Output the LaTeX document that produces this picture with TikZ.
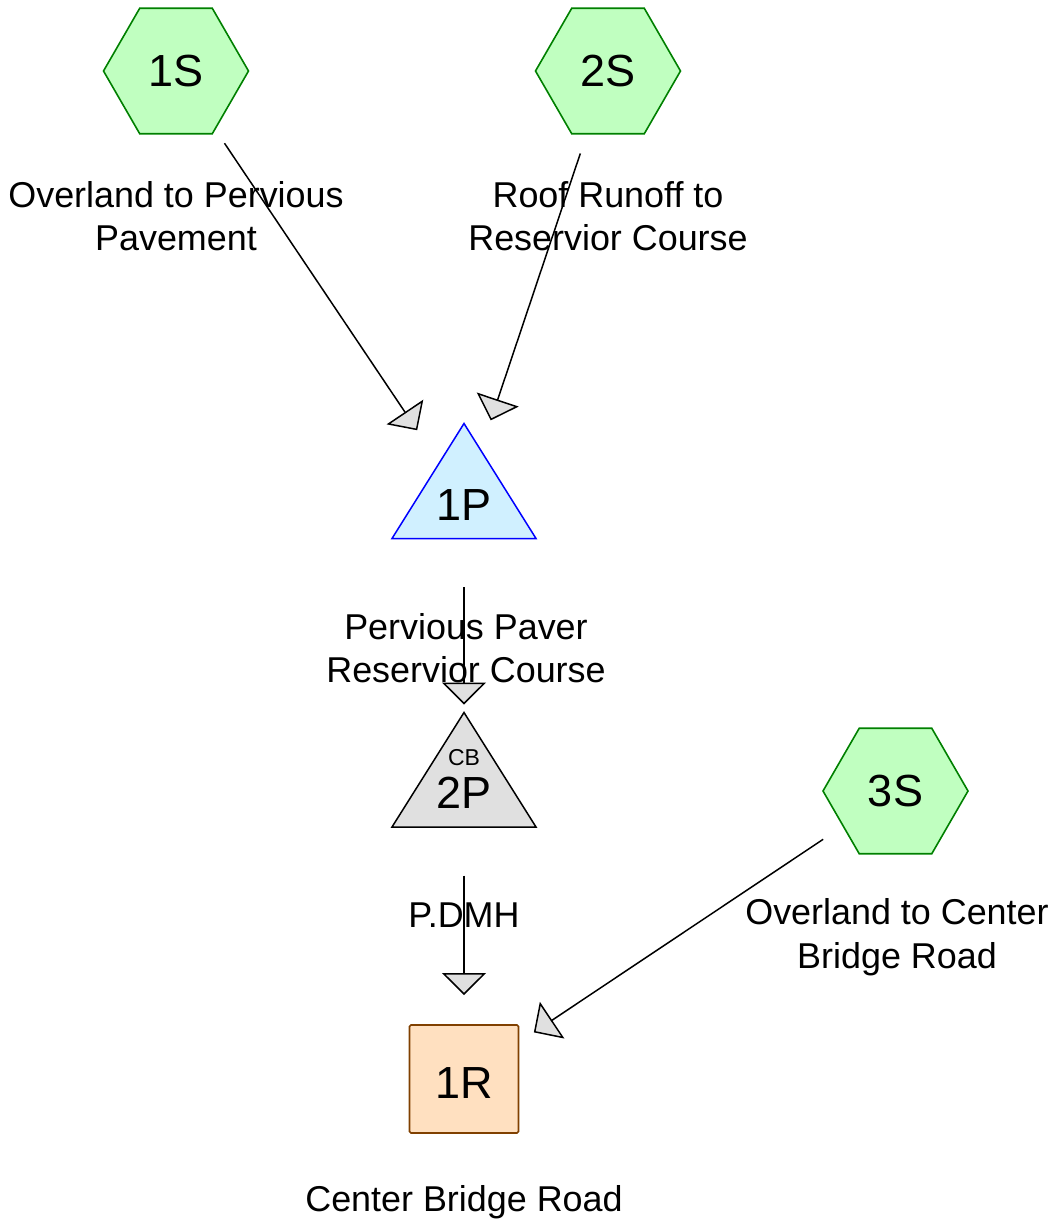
\documentclass[tikz,border=0pt]{standalone}
\usepackage{fontspec}
\setmainfont{Liberation Sans}
\usetikzlibrary{shapes.geometric,arrows.meta}
\definecolor{hexfill}{HTML}{C0FFC0}
\definecolor{hexdraw}{HTML}{008000}
\definecolor{pondfill}{HTML}{D0F0FF}
\definecolor{pondfill2}{HTML}{E0E0E0}
\definecolor{reachfill}{HTML}{FFE0C0}
\definecolor{reachdraw}{HTML}{804000}
\tikzset{
  subcat/.style={regular polygon, regular polygon sides=6, minimum size=145pt, inner sep=0pt,
    draw=hexdraw, fill=hexfill, line width=1.6pt, font=\fontsize{45}{48}\selectfont},
  bigtxt/.style={inner sep=0pt, font=\fontsize{45}{48}\selectfont},
  smalltxt/.style={inner sep=0pt, font=\fontsize{23}{26}\selectfont},
  lbl/.style={inner sep=0pt, align=center, font=\fontsize{35.9}{43.5}\selectfont},
  reach/.style={rectangle, minimum width=109pt, minimum height=108pt, inner sep=0pt,
    draw=reachdraw, fill=reachfill, line width=1.6pt, rounded corners=1.5pt},
  flow/.style={draw=black, line width=1.5pt, -{Triangle[length=22pt,width=44pt,fill=pondfill2]},
    shorten <=87pt, shorten >=84pt}
}
\begin{document}
\begin{tikzpicture}[x=1pt,y=-1pt]
\useasboundingbox (0,0) rectangle (1055,1224);
% subcatchments
\node[subcat] (s1) at (176,71) {1S};
\node[subcat] (s2) at (608,71) {2S};
\node[subcat] (s3) at (895.5,791) {3S};
% pond 1P
\coordinate (p1) at (464,500);
\draw[draw=blue, fill=pondfill, line width=1.5pt] (464,423.5) -- (536,538.5) -- (392,538.5) -- cycle;
\node[bigtxt] (p1t) at (464,505) {1P};
% pond 2P
\coordinate (p2) at (464,788.5);
\draw[draw=black, fill=pondfill2, line width=1.5pt] (464,712.5) -- (536,827) -- (392,827) -- cycle;
\node[smalltxt] (cb) at (464,758) {CB};
\node[bigtxt] (p2t) at (464,793) {2P};
% reach
\node[reach] (r1) at (464,1079) {};
\node[bigtxt] (r1t) at (464,1083) {1R};
% labels
\node[lbl] (l1) at (176,216) {Overland to Pervious\\Pavement};
\node[lbl] (l2) at (608,216) {Roof Runoff to\\Reservior Course};
\node[lbl] (l3) at (466,648) {Pervious Paver\\Reservior Course};
\node[lbl] (l4) at (464,915) {P.DMH};
\node[lbl] (l5) at (897,937) {Overland to Center\\Bridge Road};
\node[lbl] (l6) at (464,1202) {Center Bridge Road};
% flows
\draw[flow] (s1.center) -- (p1);
\draw[flow] (s2.center) -- (p1);
\draw[flow] (p1) -- (p2);
\draw[flow] (p2) -- (r1.center);
\draw[flow] (s3.center) -- (r1.center);
\end{tikzpicture}
\end{document}
